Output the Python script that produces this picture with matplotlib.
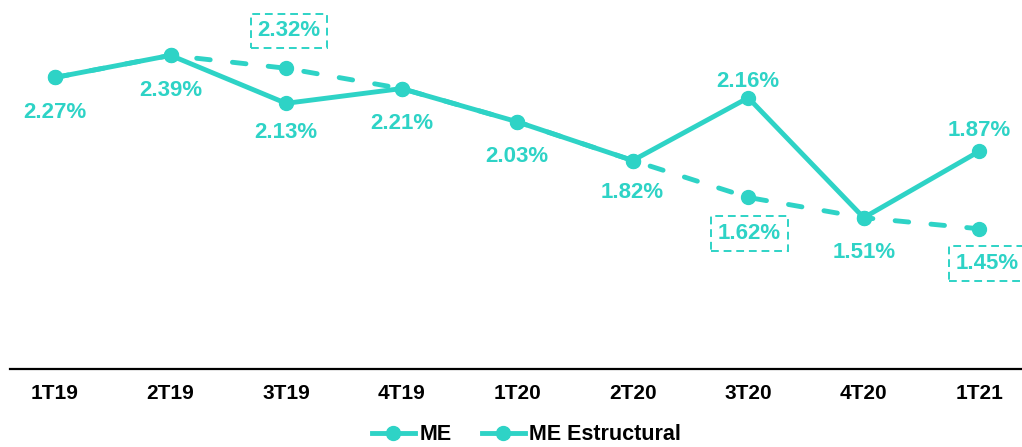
import numpy as np
import matplotlib.pyplot as plt
from matplotlib.lines import Line2D

quarters = ["1T19", "2T19", "3T19", "4T19", "1T20", "2T20", "3T20", "4T20", "1T21"]
me = [2.27, 2.39, 2.13, 2.21, 2.03, 1.82, 2.16, 1.51, 1.87]
me_estructural = [2.27, 2.39, 2.32, 2.21, 2.03, 1.82, 1.62, 1.51, 1.45]
# where the structural value differs from ME it gets its own boxed label
boxed = [2, 6, 8]

# label offsets in points (layout only)
me_off = [-25, -25, -21, -25, -25, -23, 12, -25, 15]
est_off = {2: (2, 27), 6: (1, -26), 8: (6, -25)}

teal = "#2ED3C6"
plt.rcParams["font.family"] = ["Liberation Sans", "DejaVu Sans"]
plt.rcParams["font.weight"] = "bold"

fig = plt.figure(figsize=(10.22, 4.47), dpi=100)
ax = fig.add_axes([10 / 1022, 78 / 447, 1 - 10 / 1022, 369 / 447])

x = np.arange(len(quarters))
ax.plot(x, me_estructural, color=teal, lw=3.5, ls=(0, (2.8, 4.6)), marker="o",
        ms=10, dash_capstyle="round", zorder=2)
ax.plot(x, me, color=teal, lw=3.5, marker="o", ms=10, solid_capstyle="round", zorder=3)

for i, v in enumerate(me):
    ax.annotate(f"{v:.2f}%", (x[i], v), xytext=(0, me_off[i]), textcoords="offset points",
                ha="center", va="center", color=teal, fontsize=16, fontweight="bold")

for i in boxed:
    v = me_estructural[i]
    ax.annotate(f"{v:.2f}%", (x[i], v), xytext=est_off[i], textcoords="offset points",
                ha="center", va="center", color=teal, fontsize=16, fontweight="bold",
                bbox=dict(boxstyle="square,pad=0.3", fc="white", ec=teal,
                          ls=(0, (4, 2.5)), lw=1.4),
                annotation_clip=False)

ax.set_xlim(-0.39, 8.37)
ax.set_ylim(0.69, 2.69)
ax.set_xticks(x)
ax.set_xticklabels(quarters, fontsize=15, fontweight="bold")
ax.tick_params(axis="x", length=0, pad=11)
ax.set_yticks([])
for s in ["top", "right", "left"]:
    ax.spines[s].set_visible(False)
ax.spines["bottom"].set_linewidth(1.6)

handles = [Line2D([], [], color=teal, lw=3.5, marker="o", ms=10),
           Line2D([], [], color=teal, lw=3.5, marker="o", ms=10)]
fig.legend(handles, ["ME", "ME Estructural"], loc="center", bbox_to_anchor=(0.515, 0.027),
           ncol=2, frameon=False, handlelength=2.0, handletextpad=0.2, columnspacing=1.4,
           prop={"weight": "bold", "size": 15.5})

fig.savefig("out.png", dpi=100)
